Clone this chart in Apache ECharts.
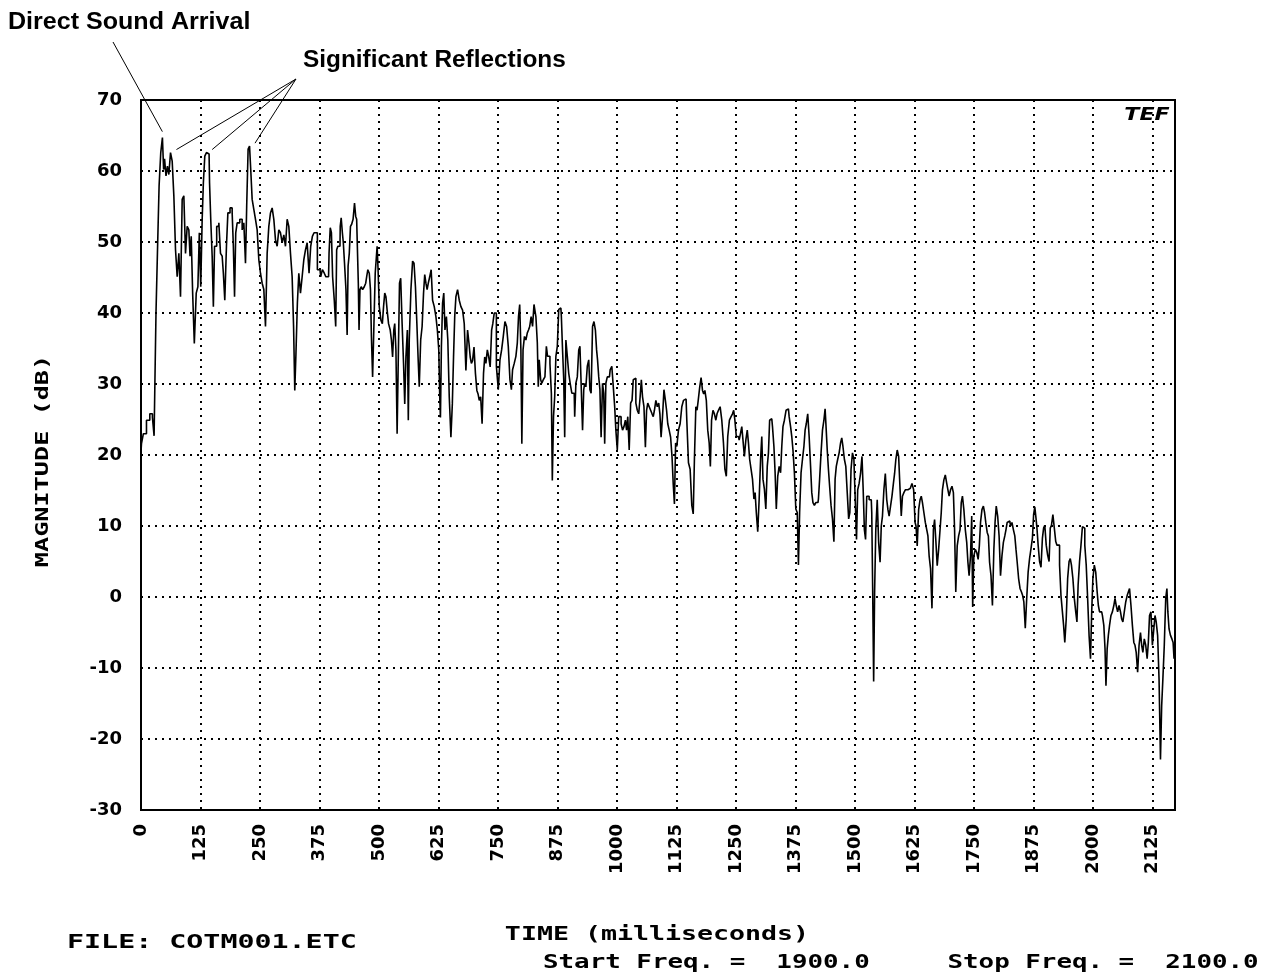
<!DOCTYPE html>
<html>
<head>
<meta charset="utf-8">
<script src="https://cdn.jsdelivr.net/npm/echarts@6/dist/echarts.min.js"></script>
<style>
html,body{margin:0;padding:0;background:#fff;}
#chart{width:1277px;height:973px;}
</style>
</head>
<body>
<div id="chart"></div>
<script>
// ---- data ----
var times = [
0,2,8,15,22,26,29,30,33,36,40,43,47,48,51,54,57,60,64,67,71,74,78,81,85,88,92,95,99,102,104,107,110,114,118,121,124,127,130,132,136,139,143,145,148,151,153,156,162,165,169,172,174,178,181,184,190,193,195,198,200,204,211,214,218,221,223,227,229,232,235,239,242,246,249,253,256,260,263,267,270,274,277,281,284,288,291,295,298,302,305,309,312,316,319,322,324,327,330,333,337,340,344,347,351,355,358,362,365,
376,379,383,387,390,394,396,399,401,404,408,410,412,415,418,419,422,424,426,429,432,434,436,439,441,444,447,450,452,454,456,457,459,461,464,467,471,473,475,478,481,483,485,488,490,494,495,497,499,502,506,508,511,513,516,518,522,525,527,530,532,534,537,539,542,544,547,550,553,555,558,561,562,565,569,572,575,578,581,583,586,589,592,595,597,600,602,605,608,611,614,618,621,624,627,628,630,632,635,637,640,643,646,649,653,655,658,660,663,667,670,674,677,681,684,688,690,693,695,698,701,704,707,709,712,715,718,721,723,726,729,732,735,738,740,744,
749,752,756,759,763,766,770,773,777,779,782,786,789,792,794,797,799,801,804,807,810,813,815,818,821,824,827,828,831,834,835,838,841,843,847,850,853,855,857,861,863,865,868,870,873,876,879,882,884,887,889,891,894,897,900,903,907,910,912,915,918,921,923,926,929,931,933,936,939,942,944,947,950,953,956,958,960,963,965,968,971,973,975,978,981,984,987,991,994,996,999,1002,1005,1007,1010,1013,1016,1019,1021,1024,1027,1030,1033,1035,1038,1041,1044,1047,1050,1052,1055,1058,1061,1063,1066,1069,1072,1075,1077,1080,1083,1086,1089,1091,1094,1097,1100,1103,1105,1108,1111,1114,1117,1119,1122,
1124,1127,1131,1134,1138,1141,1145,1148,1152,1155,1159,1161,1164,1167,1169,1172,1175,1178,1181,1183,1186,1189,1192,1195,1197,1200,1203,1206,1209,1211,1215,1218,1222,1225,1228,1231,1234,1238,1241,1244,1246,1249,1252,1255,1258,1261,1263,1266,1269,1272,1275,1277,1280,1283,1286,1289,1291,1294,1297,1300,1303,1305,1308,1311,1314,1317,1319,1322,1325,1328,1331,1333,1336,1339,1342,1345,1347,1350,1353,1357,1360,1363,1366,1368,1371,1374,1377,1380,1382,1385,1388,1391,1394,1396,1399,1402,1405,1408,1410,1413,1416,1419,1422,1424,1427,1430,1433,1436,1438,1440,1443,1445,1448,1451,1454,1457,1459,1462,1465,1468,1471,1473,1476,1479,1482,1485,1488,1490,1493,1496,1499,
1502,1504,1507,1510,1513,1516,1518,1521,1523,1526,1528,1531,1534,1536,1538,1540,1542,1545,1548,1551,1554,1556,1559,1562,1565,1568,1570,1573,1576,1579,1582,1584,1587,1590,1593,1596,1598,1601,1604,1607,1611,1614,1618,1621,1625,1627,1629,1632,1635,1638,1640,1643,1646,1649,1652,1654,1657,1660,1663,1666,1668,1671,1674,1677,1680,1682,1685,1688,1691,1694,1696,1699,1702,1705,1708,1710,1713,1716,1719,1722,1724,1727,1730,1733,1736,1738,1741,1744,1746,1748,1751,1754,1757,1760,1762,1765,1768,1771,1773,1776,1779,1781,1784,1787,1790,1793,1795,1798,1801,1804,1807,1810,1813,1816,1818,1821,1825,1828,1831,1834,1837,1839,1842,1845,1848,1851,1853,1856,1859,1862,1865,
1868,1871,1874,1876,1879,1881,1883,1886,1889,1892,1895,1897,1900,1903,1906,1909,1911,1914,1917,1920,1923,1925,1928,1931,1934,1937,1939,1942,1945,1948,1951,1953,1956,1959,1962,1965,1967,1970,1973,1976,1979,1981,1984,1987,1990,1993,1996,1998,2001,2004,2007,2010,2012,2015,2018,2021,2024,2026,2028,2031,2033,2036,2039,2042,2045,2047,2050,2053,2056,2059,2061,2064,2067,2070,2073,2075,2078,2081,2084,2087,2089,2092,2095,2098,2101,2103,2106,2109,2112,2115,2117,2120,2123,2126,2129,2131,2134,2137,2140,2143,2145,2148,2151,2154,2156,2158,2161,2164,2167,2169,2171
];
var magnitudes = [
20.5,21.6,23.0,24.9,25.8,25.3,22.7,31.5,40.0,48.4,57.9,62.6,64.7,60.2,61.7,59.3,60.7,59.5,62.6,61.4,56.5,48.9,45.1,48.4,42.3,56.0,56.5,48.4,52.2,51.7,48.0,50.8,42.8,35.7,42.8,43.7,51.3,43.7,53.2,58.3,62.1,62.6,62.4,58.3,53.2,48.0,40.9,49.4,52.2,52.7,48.4,48.0,45.6,41.8,49.4,54.1,54.8,54.1,49.4,42.3,51.3,52.7,53.2,51.7,52.7,47.0,55.0,63.1,63.5,60.2,56.0,54.6,53.2,51.7,47.5,45.6,44.2,43.3,38.1,48.4,52.2,54.1,54.8,53.2,50.3,49.4,51.7,51.3,49.9,51.0,49.4,53.2,52.2,48.4,45.1,38.1,29.1,34.3,41.4,45.6,42.8,45.1,47.5,48.9,49.9,45.6,49.4,50.8,51.3,
46.1,45.1,46.1,45.6,45.1,45.1,48.4,52.0,51.3,45.1,41.8,38.1,48.9,49.4,49.4,52.2,53.4,51.3,49.9,47.0,43.3,36.9,46.6,48.4,52.2,52.5,53.2,55.5,53.6,53.2,48.0,44.2,37.6,43.3,43.7,43.3,43.7,44.2,45.1,46.1,45.6,43.3,36.7,31.0,37.6,45.6,48.0,49.4,46.1,40.9,39.0,38.5,40.9,42.8,42.3,40.4,38.5,37.6,36.2,33.8,37.6,38.5,34.8,23.0,33.8,44.2,44.9,38.5,32.9,27.2,33.8,37.6,24.9,36.2,43.3,47.3,47.0,43.7,38.5,33.8,29.6,36.2,38.1,42.8,45.4,44.2,43.3,44.2,45.1,46.1,41.8,40.9,39.5,37.6,34.8,28.2,25.3,35.2,41.4,42.8,37.6,39.5,36.2,28.2,22.5,27.2,33.8,39.5,42.3,43.3,41.8,40.9,40.4,38.5,31.9,37.6,35.7,33.8,32.9,33.3,35.2,31.5,29.1,28.6,27.7,28.2,24.4,31.5,33.8,32.9,34.8,33.8,32.4,37.6,38.5,40.0,
32.5,29.2,33.4,34.8,36.7,38.8,38.1,35.3,30.6,29.2,32.0,32.9,33.9,35.8,39.5,41.2,34.8,21.6,34.8,36.7,36.2,37.2,37.6,38.1,39.5,38.1,41.2,41.4,39.5,35.8,29.6,33.4,30.6,30.1,30.6,31.0,35.3,33.9,33.9,32.9,28.7,16.4,25.4,28.2,33.9,35.3,40.5,40.7,39.5,34.8,30.6,22.5,36.2,33.9,31.5,30.1,28.7,28.7,25.4,30.1,31.0,34.8,35.3,30.1,23.5,29.2,30.1,29.6,32.5,33.4,29.2,28.7,38.1,38.8,37.6,34.8,33.4,31.0,29.2,22.5,30.1,28.7,21.6,30.1,31.0,31.0,32.0,32.5,29.2,26.8,23.5,20.7,25.4,25.4,24.4,23.5,24.0,24.9,23.5,25.4,20.7,27.3,27.7,30.6,30.8,27.3,26.3,25.8,28.2,30.6,28.2,26.8,21.1,26.3,27.3,26.8,26.3,25.8,25.4,26.3,27.7,26.8,27.3,25.8,22.5,25.4,29.2,27.7,26.3,24.4,23.5,22.5,19.7,15.9,13.1,
21.7,21.2,23.5,24.4,26.8,27.7,27.9,24.9,18.9,18.0,12.9,11.7,19.4,26.8,26.3,27.7,29.5,30.9,29.1,28.6,29.1,27.7,23.5,21.7,18.4,24.9,26.3,25.8,24.9,25.8,26.3,26.8,24.9,21.7,18.0,17.0,22.6,24.9,25.4,25.8,26.3,24.9,22.6,22.6,22.1,23.1,24.0,22.1,19.8,22.1,23.5,21.7,19.4,18.0,16.6,13.8,14.7,11.9,9.2,13.8,19.4,22.6,16.6,15.2,12.4,18.4,20.3,24.9,25.1,24.0,21.2,17.5,12.4,17.0,18.4,17.5,21.2,24.0,24.9,26.3,26.5,25.4,24.0,22.6,20.7,17.5,12.4,11.9,4.5,11.9,17.5,19.4,21.2,23.5,24.4,25.8,22.6,18.4,14.7,13.3,12.9,13.3,13.3,13.8,16.6,20.3,23.5,24.9,26.5,24.0,20.7,18.0,15.6,12.9,11.0,7.8,16.6,18.4,19.4,20.3,21.7,22.4,21.2,19.4,18.4,14.7,11.0,11.9,18.0,20.3,19.4,
13.3,8.1,15.1,16.0,17.4,19.8,15.1,9.5,8.1,14.2,14.2,13.7,13.7,11.9,0.7,-11.9,0.7,9.5,13.7,7.7,4.9,10.0,11.4,15.1,17.4,13.7,12.3,11.4,12.8,14.2,16.0,17.4,19.3,20.7,19.8,15.1,11.4,14.2,14.7,15.1,15.1,15.3,15.1,16.0,15.1,10.5,10.0,7.2,12.3,13.7,14.2,13.3,11.9,10.5,9.5,8.6,5.8,4.0,-1.6,9.5,10.9,8.1,4.4,6.7,9.5,11.9,15.1,16.5,17.2,16.0,15.1,14.2,15.1,15.6,14.7,9.5,0.7,7.2,8.6,9.5,13.3,14.2,12.3,9.5,7.7,4.9,3.0,5.8,11.4,-1.4,5.8,6.7,6.3,5.3,7.2,10.5,12.3,12.8,11.9,10.5,9.1,8.6,4.9,3.0,-1.2,6.7,10.5,12.8,11.4,8.6,3.0,5.8,7.7,8.6,9.5,10.5,10.7,10.0,10.5,9.5,8.6,6.7,4.9,2.6,1.2,0.7,0.2,-0.7,-4.4,-0.2,3.5,
5.4,6.8,8.3,11.6,12.7,11.1,9.7,7.3,5.0,4.2,8.3,9.7,10.1,7.3,5.9,5.0,9.7,10.1,11.6,9.7,7.8,7.3,7.3,4.5,0.2,-2.1,-4.0,-6.4,-3.1,2.6,5.0,5.4,4.5,2.6,-0.2,-2.1,-3.5,1.7,5.0,7.3,9.9,9.7,7.3,4.5,-0.2,-5.4,-8.7,-2.1,2.6,4.5,3.5,0.7,-1.2,-2.1,-2.1,-2.6,-4.0,-7.3,-12.5,-7.3,-5.4,-4.0,-2.6,-2.1,-1.2,-0.2,-1.2,-2.1,-1.2,-2.1,-3.1,-3.5,-2.1,-0.7,0.2,0.7,1.2,-1.2,-4.0,-6.4,-6.8,-7.8,-10.6,-6.8,-5.0,-6.8,-7.8,-5.9,-6.8,-8.7,-6.4,-2.6,-2.1,-6.8,-4.5,-2.6,-3.5,-5.4,-11.6,-22.9,-15.3,-11.6,-6.8,-0.2,1.2,-2.1,-4.5,-5.4,-5.9,-6.4,-8.7
];
var yMin = -30, yMax = 70, yStep = 10;
var xMin = 0, xMax = 2172, xStep = 125;
var yAxisTitle = 'MAGNITUDE (dB)';
var xAxisTitle = 'TIME (milliseconds)';
var fileLabel = 'FILE: COTM001.ETC';
var freqLabel = 'Start Freq. =  1900.0     Stop Freq. =  2100.0';
var directLabel = 'Direct Sound Arrival';
var reflLabel = 'Significant Reflections';
// peaks that the annotations point to (ms)
var directPeakTime = 47;
var reflectionPeakTimes = [64, 139, 229];

var chart = echarts.init(document.getElementById('chart'), null, {renderer: 'canvas'});
var seriesData = times.map(function (t, i) { return [t, magnitudes[i]]; });
var tickFont = {fontFamily: 'DejaVu Sans', fontWeight: 'bold', fontSize: 18, color: '#000'};
var gridDots = {show: true, lineStyle: {color: '#000', width: 2, type: [2, 5]}};

chart.setOption({
  animation: false,
  backgroundColor: '#fff',
  grid: {left: 141, right: 102, top: 100, bottom: 163, show: true, borderColor: '#000', borderWidth: 2, backgroundColor: 'transparent'},
  xAxis: {
    type: 'value', min: xMin, max: xMax, interval: xStep,
    axisLine: {show: true, onZero: false, lineStyle: {color: '#000', width: 2}},
    axisTick: {show: false},
    splitLine: gridDots,
    axisLabel: Object.assign({rotate: 90, margin: 14, showMaxLabel: false,
      formatter: function (v) { return (v % xStep === 0) ? String(v) : ''; }}, tickFont)
  },
  yAxis: {
    type: 'value', min: yMin, max: yMax, interval: yStep,
    axisLine: {show: true, lineStyle: {color: '#000', width: 2}},
    axisTick: {show: false},
    splitLine: gridDots,
    axisLabel: Object.assign({margin: 19}, tickFont)
  },
  series: [{
    type: 'line', data: seriesData, showSymbol: false, symbol: 'none', step: 'middle',
    lineStyle: {color: '#000', width: 1.6}, z: 3
  }]
});

function px(t, v) { return chart.convertToPixel({gridIndex: 0}, [t, v]); }
function valAt(t) { return magnitudes[times.indexOf(t)]; }

var monoStyle = {fontFamily: 'DejaVu Sans Mono', fontWeight: 'bold', fontSize: 19, fill: '#000'};
var annStyle = {fontFamily: 'Liberation Sans', fontWeight: 'bold', fontSize: 23, fill: '#000'};

var dp = px(directPeakTime, valAt(directPeakTime));
var graphics = [];
graphics.push({type: 'line', shape: {x1: 113, y1: 42, x2: dp[0] - 1, y2: dp[1] - 6}, style: {stroke: '#000', lineWidth: 1}});
reflectionPeakTimes.forEach(function (t) {
  var p = px(t, valAt(t));
  graphics.push({type: 'line', shape: {x1: 296, y1: 79, x2: p[0] + 5, y2: p[1] - 3}, style: {stroke: '#000', lineWidth: 1}});
});
graphics.push({type: 'text', x: 8, y: 23, scaleX: 1.09, style: Object.assign({text: directLabel, textVerticalAlign: 'middle'}, annStyle)});
graphics.push({type: 'text', x: 303, y: 61, scaleX: 1.06, style: Object.assign({text: reflLabel, textVerticalAlign: 'middle'}, annStyle)});
graphics.push({type: 'text', x: 43, y: 461, rotation: Math.PI / 2, scaleX: 1.40,
  style: Object.assign({text: yAxisTitle, textAlign: 'center', textVerticalAlign: 'middle'}, monoStyle, {fontSize: 18})});
graphics.push({type: 'text', x: 657, y: 935, scaleX: 1.40,
  style: Object.assign({text: xAxisTitle, textAlign: 'center', textVerticalAlign: 'middle'}, monoStyle)});
graphics.push({type: 'text', x: 67, y: 943, scaleX: 1.49,
  style: Object.assign({text: fileLabel, textVerticalAlign: 'middle'}, monoStyle)});
graphics.push({type: 'text', x: 543, y: 963, scaleX: 1.36,
  style: Object.assign({text: freqLabel, textVerticalAlign: 'middle'}, monoStyle)});
graphics.push({type: 'text', x: 1147, y: 116, scaleX: 1.3,
  style: {text: 'TEF', fontFamily: 'DejaVu Sans', fontStyle: 'italic', fontWeight: 'bold', fontSize: 17, fill: '#000', textAlign: 'center', textVerticalAlign: 'middle'}});

chart.setOption({graphic: graphics});
</script>
</body>
</html>
